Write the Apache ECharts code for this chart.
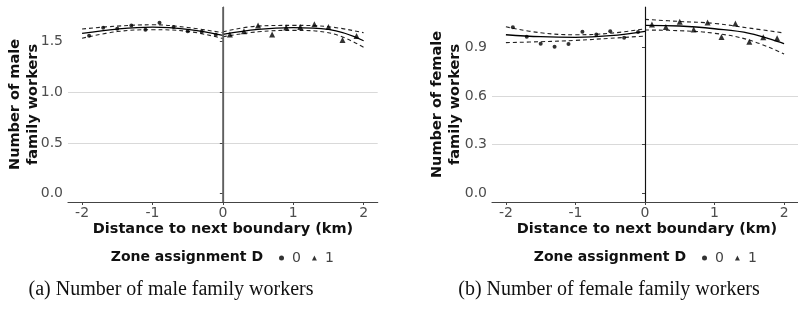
<!DOCTYPE html>
<html><head><meta charset="utf-8">
<script src="https://cdn.jsdelivr.net/npm/echarts@6.0.0/dist/echarts.min.js"></script>
<style>html,body{margin:0;padding:0;background:#fff}#c{width:798px;height:313px}</style>
</head><body><div id="c"></div>
<script>
// ---- data ----
const xD0 = [-1.9,-1.7,-1.5,-1.3,-1.1,-0.9,-0.7,-0.5,-0.3,-0.1];
const xD1 = [0.1,0.3,0.5,0.7,0.9,1.1,1.3,1.5,1.7,1.9];
const maleD0 = [1.555,1.633,1.624,1.657,1.614,1.683,1.640,1.600,1.594,1.565];
const maleD1 = [1.568,1.600,1.657,1.568,1.637,1.640,1.667,1.640,1.513,1.552];
const femD0 = [1.026,0.968,0.925,0.906,0.923,0.999,0.982,1.001,0.962,0.997];
const femD1 = [1.044,1.028,1.060,1.013,1.056,0.966,1.050,0.937,0.964,0.958];
const fitXL = [-2,-1.5,-1,-0.5,0];
const fitXR = [0,0.5,1,1.5,2];
const maleFitL = [1.578,1.621,1.640,1.617,1.558];
const maleUpL  = [1.621,1.650,1.663,1.636,1.584];
const maleLoL  = [1.530,1.596,1.614,1.598,1.528];
const maleFitR = [1.568,1.617,1.634,1.617,1.506];
const maleUpR  = [1.594,1.650,1.657,1.644,1.585];
const maleLoR  = [1.545,1.594,1.608,1.585,1.441];
const femFitL = [0.980,0.968,0.964,0.974,1.001];
const femUpL  = [1.029,0.992,0.980,0.989,1.017];
const femLoL  = [0.931,0.937,0.945,0.958,0.972];
const femFitR = [1.038,1.034,1.017,0.989,0.925];
const femUpR  = [1.075,1.062,1.050,1.021,0.991];
const femLoR  = [1.009,1.005,0.989,0.947,0.861];
const xTicks = [-2,-1,0,1,2];
const maleTicks = [0,0.5,1,1.5];
const femTicks = [0,0.3,0.6,0.9];
const xTitle = 'Distance to next boundary (km)';
const yTitles = ['Number of male\nfamily workers','Number of female\nfamily workers'];
const legendTitle = 'Zone assignment D';
const captions = ['(a) Number of male family workers','(b) Number of female family workers'];

const zip = (xs, ys) => xs.map((x,i)=>[x, ys[i]]);
const FONT = 'DejaVu Sans';

function xAxis(gi){
  return {type:'value', gridIndex:gi, min:-2.2, max:2.2,
    axisLine:{show:true, onZero:false, lineStyle:{color:'#444', width:1.2}},
    axisTick:{show:true, length:3, customValues:xTicks, lineStyle:{color:'#444'}},
    axisLabel:{customValues:xTicks, margin:4, fontSize:14, color:'#4d4d4d', fontFamily:FONT,
      formatter:v=>String(v)},
    splitLine:{show:false}};
}
function yAxis(gi, min, max, ticks){
  return {type:'value', gridIndex:gi, min:min, max:max,
    axisLine:{show:true, lineStyle:{color:'#444', width:1.2}},
    axisTick:{show:true, length:3, customValues:ticks, lineStyle:{color:'#444'}},
    axisLabel:{customValues:ticks, margin:5, fontSize:14, color:'#4d4d4d', fontFamily:FONT,
      formatter:v=>v.toFixed(1)},
    splitLine:{show:true, showMinLine:false, showMaxLine:false, lineStyle:{color:'#d9d9d9', width:1}}};
}
function panel(gi, d0, d1, fl, ul, ll, fr, ur, lr, vColor, vWidth){
  const solid = {color:'#000', width:1.3};
  const dash = {color:'#222', width:1.1, type:[4,3]};
  const ln = (xs, ys, st) => ({type:'line', xAxisIndex:gi, yAxisIndex:gi, data:zip(xs, ys),
    smooth:0.4, showSymbol:false, symbol:'none', lineStyle:st, silent:true, z:3});
  return [
    {name:'0', type:'scatter', xAxisIndex:gi, yAxisIndex:gi, data:zip(xD0, d0), symbol:'circle', symbolSize:4,
      itemStyle:{color:'#000'}, z:4,
      markLine:{silent:true, symbol:'none', label:{show:false}, data:[{xAxis:0}],
        lineStyle:{color:vColor, width:vWidth, type:'solid'}}},
    {name:'1', type:'scatter', xAxisIndex:gi, yAxisIndex:gi, data:zip(xD1, d1), symbol:'triangle', symbolSize:6,
      itemStyle:{color:'#000'}, z:4},
    ln(fitXL, fl, solid), ln(fitXL, ul, dash), ln(fitXL, ll, dash),
    ln(fitXR, fr, solid), ln(fitXR, ur, dash), ln(fitXR, lr, dash)
  ];
}
function legend(left){
  return {left:left, top:251, itemWidth:5, itemHeight:5, itemGap:11, padding:0,
    data:[{name:'0', icon:'circle'},{name:'1', icon:'triangle'}],
    textStyle:{fontSize:14, color:'#444', fontFamily:FONT, padding:[0,0,0,3]}, selectedMode:false};
}
function txt(x, y, s, font, align, extra){
  return Object.assign({type:'text', x:x, y:y, silent:true,
    style:{text:s, font:font, fill:'#111', align:align||'center', verticalAlign:'middle', lineHeight:18}}, extra||{});
}

const chart = echarts.init(document.getElementById('c'), null, {renderer:'canvas'});
chart.setOption({
  animation:false,
  grid:[{left:68, top:7, width:309.7, height:195},
        {left:492, top:7, width:309.7, height:195}],
  xAxis:[xAxis(0), xAxis(1)],
  yAxis:[yAxis(0, -0.082, 1.838, maleTicks), yAxis(1, -0.054, 1.1515, femTicks)],
  legend:[legend(279), legend(702)],
  series:[].concat(
    panel(0, maleD0, maleD1, maleFitL, maleUpL, maleLoL, maleFitR, maleUpR, maleLoR, '#666', 1.6),
    panel(1, femD0, femD1, femFitL, femUpL, femLoL, femFitR, femUpR, femLoR, '#111', 1)
  ),
  graphic:[
    txt(223, 229, xTitle, 'bold 14.5px "DejaVu Sans"'),
    txt(647, 229, xTitle, 'bold 14.5px "DejaVu Sans"'),
    txt(24, 104.5, yTitles[0], 'bold 14.5px "DejaVu Sans"', 'center', {rotation:Math.PI/2}),
    txt(446, 104.5, yTitles[1], 'bold 14.5px "DejaVu Sans"', 'center', {rotation:Math.PI/2}),
    txt(263, 257.5, legendTitle, 'bold 14px "DejaVu Sans"', 'right'),
    txt(686, 257.5, legendTitle, 'bold 14px "DejaVu Sans"', 'right'),
    txt(171, 290, captions[0], '20px "Liberation Serif"'),
    txt(609, 290, captions[1], '20px "Liberation Serif"')
  ]
});
</script></body></html>
